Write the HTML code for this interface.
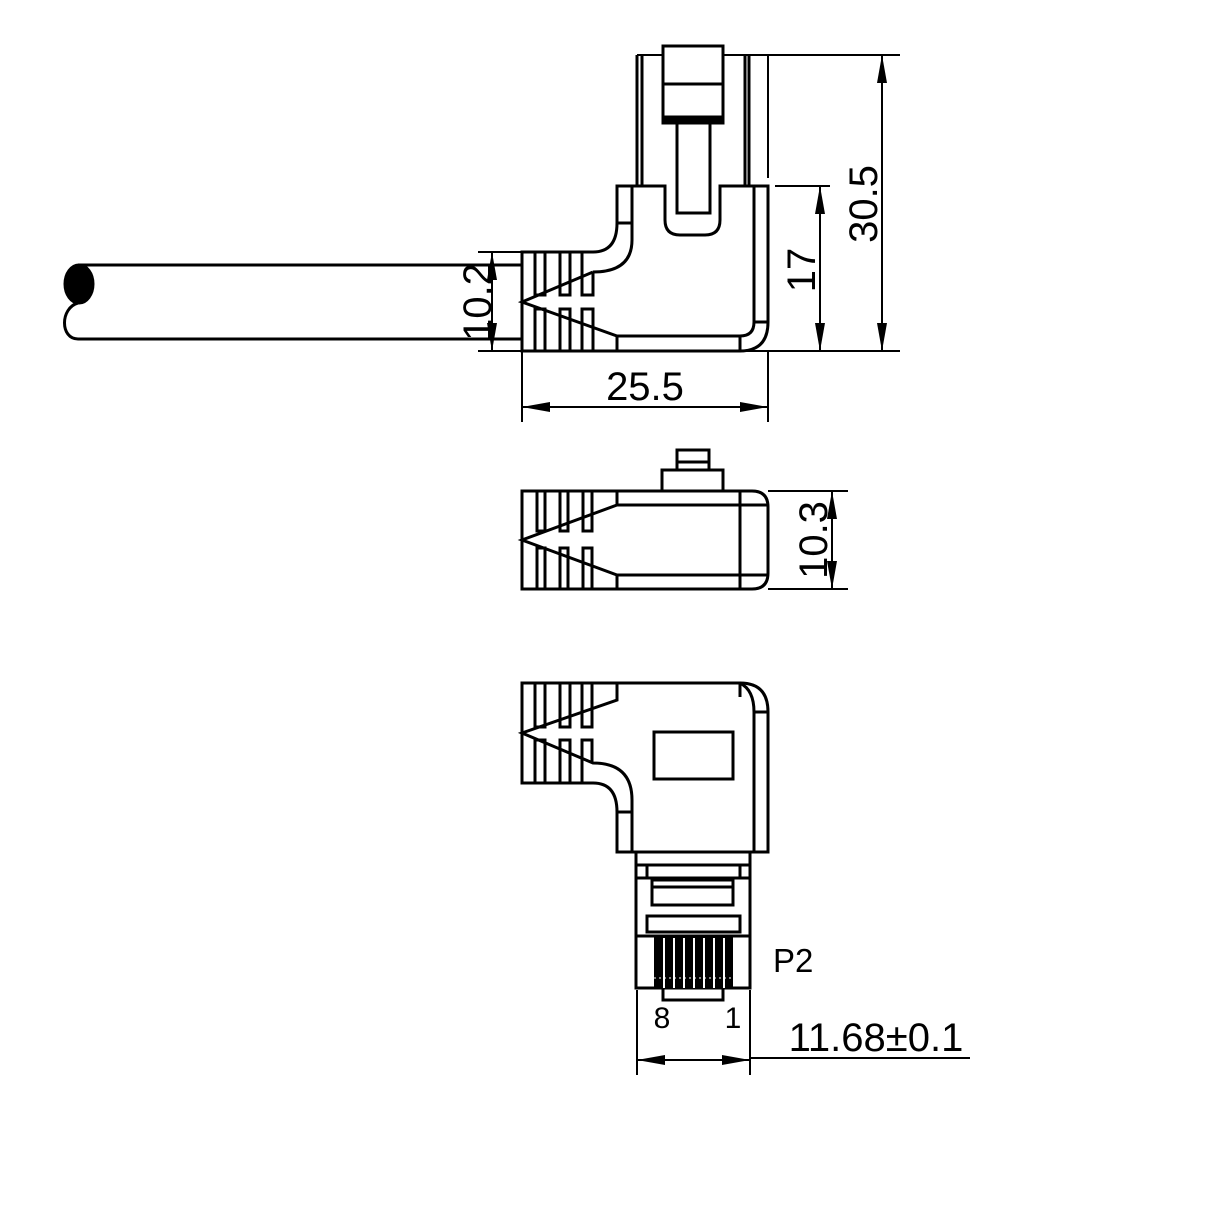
<!DOCTYPE html>
<html><head><meta charset="utf-8"><style>body{margin:0;background:#fff}svg{display:block}text{font-family:"Liberation Sans",sans-serif;fill:#000}</style></head><body>
<svg width="1220" height="1220" viewBox="0 0 1220 1220" xmlns="http://www.w3.org/2000/svg">
<defs><marker id="b" markerWidth="28" markerHeight="10" refX="28" refY="5" orient="auto-start-reverse" markerUnits="userSpaceOnUse"><path d="M0,0 L28,5 L0,10 Z"/></marker></defs>
<g fill="none" stroke="#000" stroke-width="3">
<line x1="78" y1="265" x2="522" y2="265"/><line x1="78" y1="339" x2="522" y2="339"/>
<path d="M78,303 C60,308 60,339 78,339"/>
<ellipse cx="79" cy="284" rx="14" ry="19" fill="#000"/>
<rect x="663" y="46" width="60" height="77"/><line x1="663" y1="84" x2="723" y2="84"/><rect x="663" y="117" width="60" height="6" fill="#000"/>
<path d="M677,123 V213 H710 V123"/>
<line x1="637" y1="55" x2="637" y2="186"/><line x1="642" y1="55" x2="642" y2="186"/>
<line x1="745" y1="55" x2="745" y2="186"/><line x1="749" y1="55" x2="749" y2="186"/>
<line x1="637" y1="55" x2="663" y2="55" stroke-width="2"/><line x1="723" y1="55" x2="900" y2="55" stroke-width="2"/>
<line x1="768" y1="55" x2="768" y2="178" stroke-width="2"/>
<path d="M617,186 H665 V220 Q665,235 680,235 H705 Q720,235 720,220 V186 H768 V322 Q768,351 740,351 H522 V252 H593 Q617,252 617,223 Z"/>
<path d="M632,186 V240 Q632,272 593,272"/><line x1="617" y1="223" x2="632" y2="223"/>
<path d="M754,186 V322 Q754,336 740,336 H617 L522,302 L593,272"/>
<line x1="754" y1="322" x2="768" y2="322"/><line x1="740" y1="336" x2="740" y2="351"/><line x1="617" y1="336" x2="617" y2="351"/>
<path d="M535,252 V295 H545 V252 M560,252 V295 H570 V252 M582,252 V295 H593 V272"/>
<path d="M535,351 V309 H545 V351 M560,351 V309 H570 V351 M582,351 V309 H593 V351"/>
<g stroke-width="2">
<line x1="478" y1="252" x2="522" y2="252"/><line x1="478" y1="351" x2="900" y2="351"/>
<line x1="492" y1="252" x2="492" y2="351" marker-start="url(#b)" marker-end="url(#b)"/>
<line x1="775" y1="186" x2="830" y2="186"/>
<line x1="820" y1="186" x2="820" y2="351" marker-start="url(#b)" marker-end="url(#b)"/>
<line x1="882" y1="55" x2="882" y2="351" marker-start="url(#b)" marker-end="url(#b)"/>
<line x1="522" y1="351" x2="522" y2="422"/><line x1="768" y1="351" x2="768" y2="422"/>
<line x1="522" y1="407" x2="768" y2="407" marker-start="url(#b)" marker-end="url(#b)"/>
</g>
<rect x="662" y="470" width="61" height="21"/><rect x="677" y="450" width="32" height="20"/><line x1="677" y1="462" x2="709" y2="462"/>
<path d="M522,491 H752 Q768,491 768,507 V573 Q768,589 752,589 H522 Z"/>
<line x1="740" y1="491" x2="740" y2="589"/>
<path d="M768,505 H617 L522,540 L617,575 H768"/>
<line x1="617" y1="491" x2="617" y2="505"/><line x1="617" y1="575" x2="617" y2="589"/>
<path d="M537,491 V531 H545 V491 M560,491 V531 H568 V491 M583,491 V531 H592 V491"/>
<path d="M537,589 V548 H545 V589 M560,589 V548 H568 V589 M583,589 V548 H592 V589"/>
<g stroke-width="2"><line x1="768" y1="491" x2="848" y2="491"/><line x1="768" y1="589" x2="848" y2="589"/>
<line x1="832" y1="491" x2="832" y2="589" marker-start="url(#b)" marker-end="url(#b)"/></g>
<path d="M522,683 H740 Q768,683 768,712 V852 H617 V812 Q617,783 593,783 H522 Z"/>
<path d="M740,683 Q754,690 754,712 V852"/><line x1="754" y1="712" x2="768" y2="712"/><line x1="740" y1="683" x2="740" y2="697"/>
<path d="M632,852 V800 Q632,763 593,763 L522,733 L617,700 V683"/><line x1="617" y1="812" x2="632" y2="812"/>
<path d="M535,683 V727 H545 V683 M560,683 V727 H570 V683 M582,683 V727 H592 V683"/>
<path d="M535,783 V740 H545 V783 M560,783 V740 H570 V783 M582,783 V740 H592 V763"/>
<rect x="654" y="732" width="79" height="47"/>
<rect x="636" y="852" width="114" height="136"/><line x1="636" y1="865" x2="750" y2="865"/>
<rect x="647" y="865" width="93" height="13"/><line x1="636" y1="878" x2="750" y2="878"/>
<rect x="652" y="880" width="81" height="25"/><line x1="652" y1="887" x2="733" y2="887"/>
<rect x="647" y="916" width="93" height="16"/><line x1="636" y1="936" x2="750" y2="936"/>
<rect x="663" y="988" width="60" height="12"/>
</g>
<rect x="654" y="936" width="79" height="52" fill="#000"/>
<g stroke="#fff" stroke-width="2"><line x1="664" y1="938" x2="664" y2="988"/><line x1="674" y1="938" x2="674" y2="988"/><line x1="684" y1="938" x2="684" y2="988"/><line x1="694" y1="938" x2="694" y2="988"/><line x1="704" y1="938" x2="704" y2="988"/><line x1="714" y1="938" x2="714" y2="988"/><line x1="724" y1="938" x2="724" y2="988"/></g>
<g stroke="#fff" stroke-width="1" stroke-dasharray="2,3"><line x1="654" y1="978" x2="733" y2="978"/></g>
<g stroke="#000" stroke-width="2"><line x1="637" y1="990" x2="637" y2="1075"/><line x1="750" y1="990" x2="750" y2="1075"/>
<line x1="637" y1="1060" x2="750" y2="1060" marker-start="url(#b)" marker-end="url(#b)"/><line x1="750" y1="1058" x2="970" y2="1058"/></g>
<g font-size="40">
<text transform="translate(491,302) rotate(-90)" text-anchor="middle">10.2</text>
<text transform="translate(815,270) rotate(-90)" text-anchor="middle">17</text>
<text transform="translate(877,204) rotate(-90)" text-anchor="middle">30.5</text>
<text x="645" y="400" text-anchor="middle">25.5</text>
<text transform="translate(827,540) rotate(-90)" text-anchor="middle">10.3</text>
<text x="876" y="1051" text-anchor="middle">11.68±0.1</text>
</g>
<text x="773" y="972" font-size="33">P2</text>
<text x="662" y="1028" font-size="30" text-anchor="middle">8</text>
<text x="733" y="1028" font-size="30" text-anchor="middle">1</text>
</svg>
</body></html>
